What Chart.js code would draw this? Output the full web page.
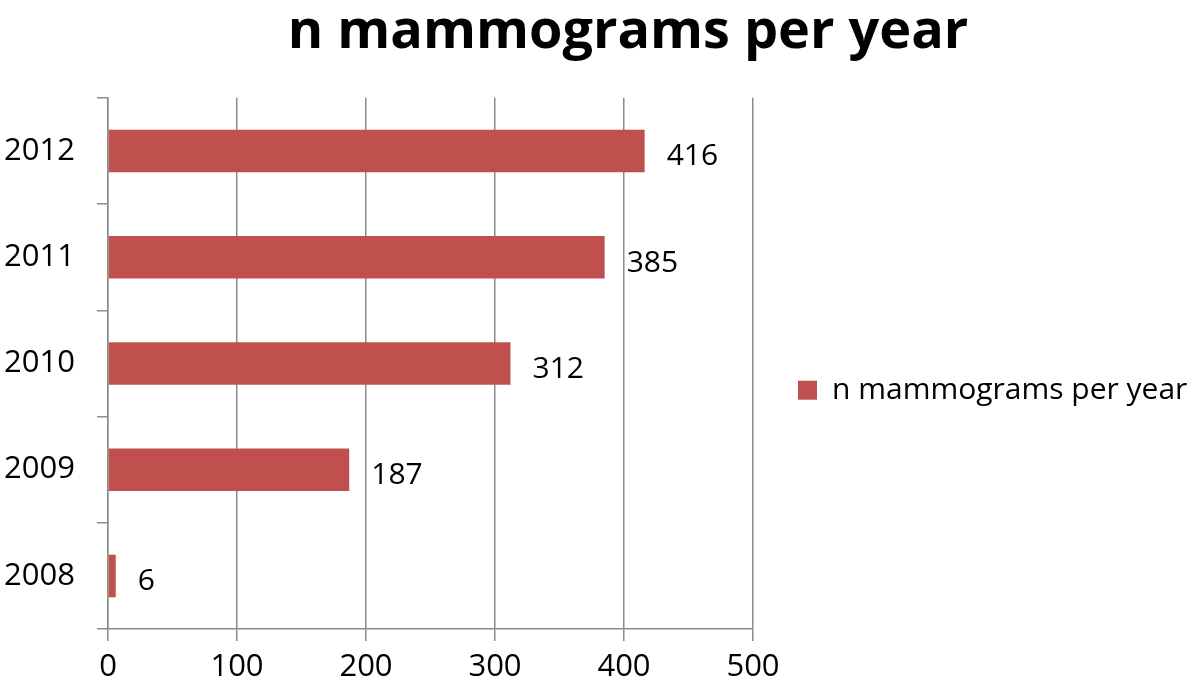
<!DOCTYPE html>
<html>
<head>
<meta charset="utf-8">
<title>n mammograms per year</title>
<script src="https://cdn.jsdelivr.net/npm/chart.js@4"></script>
<style>
  html, body { margin: 0; padding: 0; background: #fff; }
  #wrap { width: 1200px; height: 688px; }
</style>
</head>
<body>
<div id="wrap"><canvas id="myChart" width="1200" height="688"></canvas></div>
<script>
// data
const years = ['2008', '2009', '2010', '2011', '2012'];
const mammograms = [6, 187, 312, 385, 416];
const seriesName = 'n mammograms per year';
const xTicks = [0, 100, 200, 300, 400, 500];

Chart.defaults.font.family = '"Open Sans", sans-serif';
Chart.defaults.color = '#000';

// value labels at the end of each bar
const barLabels = {
  id: 'barLabels',
  afterDatasetsDraw(chart) {
    const ctx = chart.ctx;
    ctx.save();
    ctx.font = '30px "Open Sans", sans-serif';
    ctx.fillStyle = '#000';
    ctx.textAlign = 'left';
    ctx.textBaseline = 'middle';
    chart.getDatasetMeta(0).data.forEach((bar, i) => {
      ctx.fillText(String(mammograms[i]), bar.x + 22, bar.y + 6);
    });
    ctx.restore();
  }
};

// the legend sits in a wide empty column on the right, like the original
const wideLegend = {
  id: 'wideLegend',
  afterInit(chart) {
    const lg = chart.legend;
    const fit = lg.fit;
    lg.fit = function () {
      fit.call(this);
      this.width = 447;
    };
  }
};

const gridColor = '#8c8c8c';

// config
const config = {
  type: 'bar',
  data: {
    labels: years,
    datasets: [{
      label: seriesName,
      data: mammograms,
      backgroundColor: '#C0504D',
      borderWidth: 0,
      barPercentage: 0.4,
      categoryPercentage: 1.0
    }]
  },
  options: {
    indexAxis: 'y',
    responsive: false,
    animation: false,
    layout: { padding: { left: 0, right: 0, top: 0, bottom: -6 } },
    scales: {
      x: {
        min: 0,
        max: 500,
        afterBuildTicks(scale) {
          scale.ticks = xTicks.map(v => ({ value: v }));
        },
        grid: { color: gridColor, lineWidth: 1.5, tickLength: 12, drawTicks: true },
        border: { color: gridColor, width: 1.5 },
        ticks: { font: { size: 31, lineHeight: 1.0 }, padding: 11, color: '#000' }
      },
      y: {
        reverse: true,
        afterFit(scale) { scale.width = 108; },
        grid: { offset: true, drawOnChartArea: false, color: gridColor, lineWidth: 1.5, tickLength: 11 },
        border: { color: gridColor, width: 1.5 },
        ticks: { font: { size: 31 }, padding: 22, color: '#000' }
      }
    },
    plugins: {
      title: {
        display: true,
        text: '    ' + seriesName,
        color: '#000',
        font: { size: 54, weight: 'bold' },
        padding: { top: 0, bottom: 33 }
      },
      legend: {
        position: 'right',
        title: { display: true, text: '', padding: { top: 0, bottom: 72 } },
        labels: {
          boxWidth: 19,
          boxHeight: 19,
          padding: 45,
          color: '#000',
          font: { size: 30 }
        }
      },
      tooltip: { enabled: false }
    }
  },
  plugins: [barLabels, wideLegend]
};

// render init block
const myChart = new Chart(document.getElementById('myChart'), config);
</script>
</body>
</html>
